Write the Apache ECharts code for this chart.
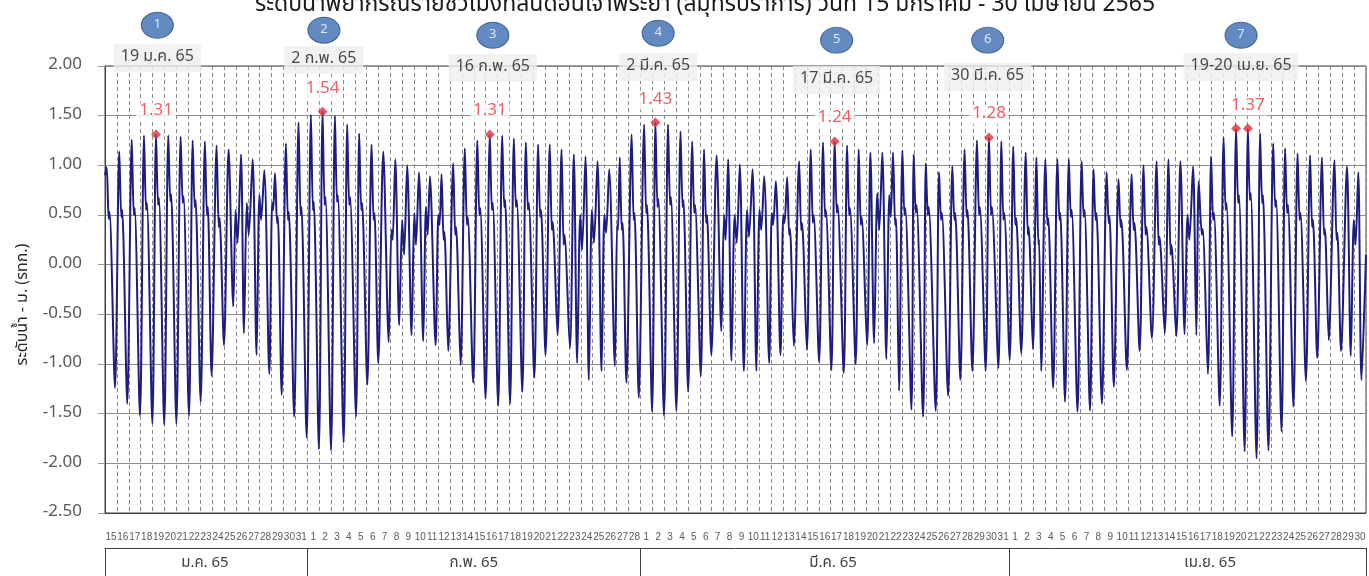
<!DOCTYPE html>
<html>
<head>
<meta charset="utf-8">
<script src="https://cdn.jsdelivr.net/npm/echarts@6.0.0/dist/echarts.min.js"></script>
<style>
  html, body { margin: 0; padding: 0; background: #fff; }
  #chart { width: 1369px; height: 576px; }
</style>
</head>
<body>
<div id="chart"></div>
<script>
// month blocks of the x axis
const monthNames = ['ม.ค. 65', 'ก.พ. 65', 'มี.ค. 65', 'เม.ย. 65'];
const monthFirstDay = [15, 1, 1, 1];
const monthLastDay = [31, 28, 31, 30];

// tide extremes: [days since 15 Jan 00:00, level m]
const tideJan = [
  [0.00, 0.90], [0.14, 0.98], [0.31, 0.46], [0.38, 0.53], [0.84, -1.24],
  [1.20, 1.14], [1.37, 0.48], [1.44, 0.55], [1.87, -1.40],
  [2.25, 1.26], [2.42, 0.50], [2.49, 0.57], [2.94, -1.52],
  [3.28, 1.30], [3.45, 0.55], [3.52, 0.62], [3.98, -1.60],
  [4.29, 1.31], [4.46, 0.60], [4.53, 0.67], [4.98, -1.61],
  [5.32, 1.30], [5.49, 0.64], [5.56, 0.71], [6.00, -1.60],
  [6.36, 1.29], [6.53, 0.62], [6.60, 0.69], [7.06, -1.52],
  [7.37, 1.25], [7.54, 0.58], [7.61, 0.65], [8.04, -1.38],
  [8.40, 1.24], [8.57, 0.50], [8.64, 0.58], [8.96, -1.12],
  [9.38, 1.20], [9.56, 0.38], [9.63, 0.47], [10.00, -0.81],
  [10.39, 1.16], [10.78, -0.42], [10.98, 0.55], [11.14, 0.22],
  [11.43, 1.11], [11.68, -0.69], [11.92, 0.62], [12.08, 0.30],
  [12.41, 1.06], [12.74, -0.91], [12.98, 0.70], [13.12, 0.45],
  [13.39, 0.95], [13.81, -1.10], [14.05, 0.62], [14.13, 0.55],
  [14.29, 0.92], [14.46, 0.42], [14.53, 0.48], [14.85, -1.31],
  [15.21, 1.22], [15.38, 0.45], [15.45, 0.53], [15.90, -1.53],
  [16.27, 1.43], [16.44, 0.50], [16.51, 0.58], [16.95, -1.74]
];
const tideFeb = [
  [17.31, 1.51], [17.48, 0.55], [17.55, 0.63], [17.98, -1.86],
  [18.29, 1.54], [18.46, 0.60], [18.53, 0.68], [19.00, -1.87],
  [19.33, 1.50], [19.50, 0.63], [19.57, 0.70], [20.06, -1.79],
  [20.36, 1.41], [20.53, 0.60], [20.60, 0.68], [21.10, -1.53],
  [21.37, 1.32], [21.54, 0.55], [21.61, 0.62], [22.05, -1.21],
  [22.41, 1.21], [22.58, 0.45], [22.65, 0.52], [22.97, -0.99],
  [23.39, 1.14], [23.85, -0.78], [24.08, 0.35], [24.18, 0.25],
  [24.40, 1.06], [24.73, -0.61], [24.98, 0.45], [25.14, 0.10],
  [25.40, 1.00], [25.77, -0.71], [26.00, 0.52], [26.14, 0.20],
  [26.39, 0.93], [26.75, -0.77], [26.98, 0.58], [27.12, 0.30],
  [27.31, 0.89], [27.79, -0.81], [28.02, 0.50], [28.12, 0.40],
  [28.29, 0.91], [28.46, 0.25], [28.53, 0.33], [28.85, -0.87],
  [29.27, 1.02], [29.44, 0.30], [29.51, 0.38], [29.89, -1.01],
  [30.25, 1.17], [30.42, 0.40], [30.49, 0.48], [30.95, -1.19],
  [31.30, 1.25], [31.47, 0.50], [31.54, 0.57], [31.99, -1.35],
  [32.35, 1.31], [32.52, 0.55], [32.59, 0.62], [33.05, -1.42],
  [33.39, 1.30], [33.56, 0.58], [33.63, 0.65], [34.05, -1.40],
  [34.37, 1.27], [34.54, 0.58], [34.61, 0.65], [35.08, -1.28],
  [35.38, 1.23], [35.55, 0.55], [35.62, 0.62], [36.09, -1.14],
  [36.41, 1.21], [36.58, 0.48], [36.65, 0.55], [37.03, -0.91],
  [37.39, 1.21], [37.56, 0.35], [37.63, 0.43], [38.04, -0.71],
  [38.38, 1.16], [38.55, 0.20], [38.62, 0.30], [39.08, -0.84],
  [39.41, 1.11], [39.69, -0.99], [39.95, 0.50], [40.10, 0.15],
  [40.39, 1.09], [40.67, -1.16], [40.93, 0.55], [41.10, 0.22],
  [41.40, 1.04], [41.74, -1.07], [41.98, 0.50], [42.12, 0.32],
  [42.38, 0.96], [42.86, -1.02], [43.05, 0.40], [43.12, 0.35],
  [43.27, 1.08], [43.44, 0.35], [43.51, 0.42], [43.83, -1.19],
  [44.27, 1.31], [44.44, 0.45], [44.51, 0.52], [44.87, -1.34]
];
const tideMar = [
  [45.32, 1.41], [45.49, 0.52], [45.56, 0.60], [45.99, -1.48],
  [46.27, 1.43], [46.44, 0.58], [46.51, 0.66], [46.99, -1.52],
  [47.33, 1.41], [47.50, 0.60], [47.57, 0.68], [48.03, -1.47],
  [48.38, 1.34], [48.55, 0.58], [48.62, 0.65], [49.02, -1.28],
  [49.36, 1.24], [49.53, 0.52], [49.60, 0.60], [50.08, -1.12],
  [50.36, 1.16], [50.53, 0.42], [50.60, 0.50], [50.97, -0.91],
  [51.41, 1.10], [51.81, -0.67], [52.04, 0.50], [52.17, 0.25],
  [52.38, 1.06], [52.66, -0.97], [52.93, 0.50], [53.10, 0.22],
  [53.36, 1.01], [53.70, -1.07], [53.97, 0.55], [54.13, 0.28],
  [54.43, 0.96], [54.76, -1.07], [55.02, 0.55], [55.16, 0.35],
  [55.41, 0.89], [55.83, -0.99], [56.05, 0.52], [56.16, 0.40],
  [56.39, 0.84], [56.78, -0.91], [57.02, 0.50], [57.12, 0.42],
  [57.34, 0.88], [57.51, 0.30], [57.58, 0.36], [57.90, -0.82],
  [58.35, 1.04], [58.52, 0.35], [58.59, 0.42], [59.00, -0.86],
  [59.33, 1.16], [59.50, 0.42], [59.57, 0.50], [60.03, -0.98],
  [60.36, 1.23], [60.53, 0.48], [60.60, 0.55], [61.06, -1.06],
  [61.34, 1.24], [61.51, 0.52], [61.58, 0.60], [62.10, -1.09],
  [62.38, 1.20], [62.55, 0.50], [62.62, 0.57], [63.10, -1.00],
  [63.36, 1.16], [63.53, 0.40], [63.60, 0.48], [64.06, -0.81],
  [64.34, 1.13], [64.65, -0.79], [64.92, 0.72], [65.08, 0.35],
  [65.34, 1.13], [65.68, -0.95], [65.93, 0.70], [66.05, 0.48],
  [66.24, 1.13], [66.42, 0.40], [66.49, 0.46], [66.75, -1.27],
  [67.03, 1.15], [67.20, 0.50], [67.27, 0.57], [67.79, -1.46],
  [67.98, 1.11], [68.15, 0.52], [68.22, 0.60], [68.77, -1.53],
  [69.00, 1.02], [69.17, 0.50], [69.24, 0.58], [69.83, -1.47],
  [70.11, 0.93], [70.28, 0.45], [70.35, 0.52], [70.87, -1.32],
  [71.23, 0.99], [71.40, 0.45], [71.47, 0.52], [71.90, -1.16],
  [72.26, 1.16], [72.43, 0.48], [72.50, 0.55], [72.91, -1.07],
  [73.30, 1.25], [73.47, 0.50], [73.54, 0.58], [74.03, -1.07],
  [74.31, 1.28], [74.48, 0.50], [74.55, 0.58], [75.10, -1.04],
  [75.35, 1.24], [75.52, 0.45], [75.59, 0.52], [76.05, -0.96]
];
const tideApr = [
  [76.35, 1.19], [76.52, 0.40], [76.59, 0.47], [77.02, -0.89],
  [77.40, 1.13], [77.57, 0.30], [77.64, 0.38], [78.00, -0.85],
  [78.30, 1.08], [78.46, 0.20], [78.52, 0.25], [78.70, -1.07],
  [79.05, 1.06], [79.22, 0.40], [79.29, 0.47], [79.70, -1.24],
  [80.06, 1.06], [80.23, 0.45], [80.30, 0.52], [80.70, -1.38],
  [81.02, 1.06], [81.19, 0.48], [81.26, 0.55], [81.75, -1.48],
  [82.10, 1.04], [82.27, 0.48], [82.34, 0.55], [82.80, -1.47],
  [83.10, 0.96], [83.27, 0.45], [83.34, 0.52], [83.80, -1.40],
  [84.20, 0.93], [84.37, 0.42], [84.44, 0.49], [84.80, -1.23],
  [85.20, 0.86], [85.37, 0.38], [85.44, 0.45], [85.90, -1.06],
  [86.30, 0.91], [86.47, 0.35], [86.54, 0.42], [86.97, -0.87],
  [87.30, 1.00], [87.47, 0.30], [87.54, 0.38], [88.00, -0.74],
  [88.40, 1.04], [88.57, 0.20], [88.64, 0.28], [89.08, -0.69],
  [89.40, 1.06], [89.57, 0.10], [89.64, 0.20], [90.05, -0.72],
  [90.40, 1.04], [90.75, -0.70], [91.00, 0.50], [91.15, 0.25],
  [91.46, 0.99], [91.74, -0.71], [91.94, 0.84], [92.20, 0.30], [92.27, 0.36], [92.71, -1.10],
  [92.98, 1.09], [93.15, 0.45], [93.22, 0.52], [93.70, -1.42],
  [94.03, 1.28], [94.20, 0.55], [94.27, 0.62], [94.75, -1.73],
  [95.08, 1.37], [95.25, 0.62], [95.32, 0.70], [95.80, -1.88],
  [96.07, 1.37], [96.24, 0.65], [96.31, 0.72], [96.80, -1.95],
  [97.10, 1.32], [97.27, 0.62], [97.34, 0.70], [97.80, -1.87],
  [98.20, 1.22], [98.37, 0.58], [98.44, 0.65], [98.90, -1.68],
  [99.20, 1.17], [99.37, 0.52], [99.44, 0.60], [99.90, -1.43],
  [100.25, 1.12], [100.42, 0.45], [100.49, 0.52], [100.95, -1.17],
  [101.30, 1.10], [101.47, 0.38], [101.54, 0.45], [101.90, -0.94],
  [102.30, 1.08], [102.47, 0.30], [102.54, 0.36], [102.87, -0.76],
  [103.35, 1.05], [103.52, 0.25], [103.59, 0.32], [103.90, -0.87],
  [104.40, 0.99], [104.72, -0.92], [104.98, 0.45], [105.12, 0.20],
  [105.35, 0.93], [105.62, -1.16], [106.00, 0.10]
];

// highest tides marked on the chart
const peakT = [4.29, 18.29, 32.35, 46.27, 61.34, 74.31, 95.08, 96.07];
const peakV = [1.31, 1.54, 1.31, 1.43, 1.24, 1.28, 1.37, 1.37];
const eventDates = ['19 ม.ค. 65', '2 ก.พ. 65', '16 ก.พ. 65', '2 มี.ค. 65', '17 มี.ค. 65', '30 มี.ค. 65', '19-20 เม.ย. 65'];

// layout only: where the numbered badges and date boxes sit
const eventX = [4.4, 18.4, 32.6, 46.5, 61.5, 74.2, 95.5];
const boxY = [2.08, 2.06, 1.98, 1.99, 1.86, 1.89, 1.99];
const badgeY = [2.41, 2.36, 2.31, 2.33, 2.26, 2.26, 2.31];
const monthLabelAt = [8.4, 31, 61.2, 92.9];

const dayLabels = [];
const monthEdges = [0];
monthNames.forEach((m, i) => {
  for (let d = monthFirstDay[i]; d <= monthLastDay[i]; d++) dayLabels.push(String(d));
  monthEdges.push(dayLabels.length);
});

const tide = [...tideJan, ...tideFeb, ...tideMar, ...tideApr];
const thaiFont = "'Noto Sans Thai', 'Tahoma', 'Noto Sans', 'DejaVu Sans', sans-serif";

const chart = echarts.init(document.getElementById('chart'));
chart.setOption({
  animation: false,
  backgroundColor: '#fff',
  textStyle: { fontFamily: thaiFont },
  title: {
    text: 'ระดับน้ำพยากรณ์รายชั่วโมงที่สันดอนเจ้าพระยา (สมุทรปราการ) วันที่ 15 มกราคม - 30 เมษายน 2565',
    left: 250,
    top: -10,
    textStyle: { fontSize: 23, fontWeight: 'normal', color: '#1a1a1a', fontFamily: thaiFont }
  },
  grid: {
    left: 105, right: 3, top: 66, bottom: 63,
    show: true, borderColor: '#404040', borderWidth: 1
  },
  xAxis: [
    {
      type: 'category',
      data: dayLabels,
      boundaryGap: true,
      position: 'bottom',
      axisLine: { show: true, onZero: false, lineStyle: { color: '#404040' } },
      axisTick: { show: false },
      axisLabel: {
        interval: 0, fontSize: 10, color: '#595959', margin: 19,
        fontFamily: "'Liberation Sans Narrow', 'Liberation Sans', sans-serif"
      },
      splitLine: { show: true, interval: 0, lineStyle: { color: '#8a8a8a', type: [4, 3], width: 1 } }
    },
    { type: 'value', min: 0, max: 106, show: false, axisLine: { onZero: false } },
    {
      type: 'value', min: 0, max: 106, position: 'bottom', offset: 35,
      axisLine: { show: true, onZero: false, lineStyle: { color: '#404040' } },
      axisTick: { show: true, customValues: monthEdges, length: 40, lineStyle: { color: '#404040' } },
      axisLabel: {
        customValues: monthLabelAt,
        formatter: v => {
          let best = 0;
          monthLabelAt.forEach((p, i) => { if (Math.abs(p - v) < Math.abs(monthLabelAt[best] - v)) best = i; });
          return monthNames[best];
        },
        fontSize: 15, color: '#404040', margin: 8
      },
      splitLine: { show: false }
    }
  ],
  yAxis: {
    type: 'value', min: -2.5, max: 2.0, interval: 0.5,
    axisLine: { show: true, onZero: false, lineStyle: { color: '#404040' } },
    axisTick: { show: true, length: 7, lineStyle: { color: '#999' } },
    axisLabel: { formatter: v => v.toFixed(2), fontSize: 17, color: '#595959', margin: 23 },
    splitLine: { show: true, lineStyle: { color: '#8c8c8c' } },
    name: 'ระดับน้ำ - ม. (รทก.)',
    nameLocation: 'middle',
    nameGap: 60,
    nameTextStyle: { fontSize: 16, color: '#262626', padding: [0, 30, 0, 0] }
  },
  series: [
    {
      name: 'tide',
      type: 'line',
      xAxisIndex: 1,
      data: tide,
      showSymbol: false,
      smooth: 0.3,
      lineStyle: { color: '#1c1c82', width: 2 },
      z: 3
    },
    {
      name: 'peaks',
      type: 'scatter',
      xAxisIndex: 1,
      data: peakT.map((t, i) => ({
        value: [t, peakV[i]],
        label: { show: i !== 6 }
      })),
      symbol: 'diamond',
      symbolSize: 10,
      itemStyle: { color: '#dc2f3c' },
      label: {
        position: 'top', distance: 8,
        formatter: p => p.value[1].toFixed(2),
        color: '#e8383d', fontSize: 17,
        backgroundColor: '#fff', padding: [1, 3]
      },
      z: 5
    },
    {
      name: 'dates',
      type: 'scatter',
      xAxisIndex: 1,
      clip: false,
      symbolSize: 0,
      data: eventX.map((x, i) => [x, boxY[i], eventDates[i]]),
      label: {
        show: true, position: 'inside',
        formatter: p => p.value[2],
        color: '#1a1a1a', fontSize: 16,
        backgroundColor: '#efefef', padding: [6, 7]
      },
      z: 6
    },
    {
      name: 'badges',
      type: 'scatter',
      xAxisIndex: 1,
      clip: false,
      symbol: 'circle',
      symbolSize: [32, 26],
      data: eventX.map((x, i) => [x, badgeY[i], i + 1]),
      itemStyle: { color: '#3b6bb0', borderColor: '#2b5088', borderWidth: 1 },
      label: {
        show: true, position: 'inside',
        formatter: p => String(p.value[2]),
        color: '#fff', fontSize: 13
      },
      z: 6
    }
  ]
});
</script>
</body>
</html>
